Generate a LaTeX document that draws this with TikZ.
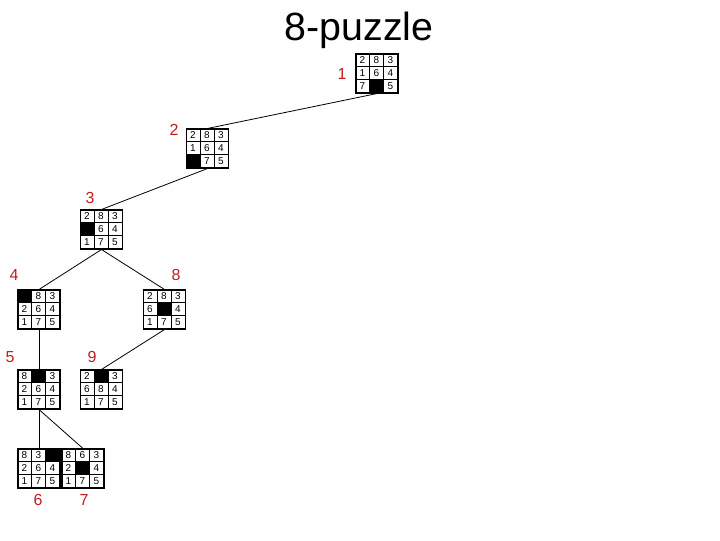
\documentclass[tikz,border=0pt]{standalone}
\usepackage{fontspec}
\setmainfont{Liberation Sans}
\usepackage{tikz}
\usetikzlibrary{calc}
\definecolor{labred}{RGB}{192,30,30}

\tikzset{
    board/.style = {draw, minimum width = 31.5pt, minimum height = 29.25pt, inner sep = 0pt, thick},
    stepnum/.style = {text = labred, font = \fontsize{12}{14}\selectfont},
    tile/.style  = {font = \fontsize{7.5}{8}\selectfont}
}

% \puzzle{name}{x}{y}{nine tiles, 0 = blank}
\newcommand{\puzzle}[4]{%
    \node[board] (#1) at (#2, #3) {};
    \foreach \t [count = \i from 0] in {#4} {
        \pgfmathtruncatemacro{\c}{mod(\i, 3)}
        \pgfmathtruncatemacro{\r}{div(\i, 3)}
        \coordinate (cell) at ($(#1.north west) + (\c*14 + 7, \r*13 + 6.5)$);
        \ifnum\t=0
            \fill ($(cell) + (-7, -6.5)$) rectangle ($(cell) + (7, 6.5)$);
        \else
            \node[tile] at (cell) {\t};
        \fi
    }
    \draw[thin] ($(#1.north west) + (14, 0)$) -- ($(#1.south west) + (14, 0)$)
                ($(#1.north west) + (28, 0)$) -- ($(#1.south west) + (28, 0)$)
                ($(#1.north west) + (0, 13)$) -- ($(#1.north east) + (0, 13)$)
                ($(#1.north west) + (0, 26)$) -- ($(#1.north east) + (0, 26)$);
}

\begin{document}
\begin{tikzpicture}[x = 0.75pt, y = -0.75pt]
    \useasboundingbox (0, 0) rectangle (720, 540);

    \node[font = \fontsize{29.5}{32}\selectfont] (title) at (359, 30) {8-puzzle};

    %% boards
    \puzzle{b1}{377}{73.5}{2,8,3,1,6,4,7,0,5}
    \puzzle{b2}{207.5}{148.5}{2,8,3,1,6,4,0,7,5}
    \puzzle{b3}{101.5}{229.5}{2,8,3,0,6,4,1,7,5}
    \puzzle{b4}{39}{309.5}{0,8,3,2,6,4,1,7,5}
    \puzzle{b8}{164.5}{309.5}{2,8,3,6,0,4,1,7,5}
    \puzzle{b5}{39}{389.5}{8,0,3,2,6,4,1,7,5}
    \puzzle{b9}{101.5}{389.5}{2,0,3,6,8,4,1,7,5}
    \puzzle{b6}{39}{468.5}{8,3,0,2,6,4,1,7,5}
    \puzzle{b7}{83}{468.5}{8,6,3,2,0,4,1,7,5}

    %% labels
    \node[stepnum] (l1) at (342, 74) {1};
    \node[stepnum] (l2) at (174, 130) {2};
    \node[stepnum] (l3) at (90, 198) {3};
    \node[stepnum] (l4) at (14, 275) {4};
    \node[stepnum] (l8) at (176, 275) {8};
    \node[stepnum] (l5) at (10, 357) {5};
    \node[stepnum] (l9) at (92, 357) {9};
    \node[stepnum] (l6) at (38, 500) {6};
    \node[stepnum] (l7) at (84, 500) {7};

    %% moves
    \draw[semithick] (b1.south) -- (b2.north);
    \draw[semithick] (b2.south) -- (b3.north);
    \draw[semithick] (b3.south) -- (b4.north);
    \draw[semithick] (b3.south) -- (b8.north);
    \draw[semithick] (b4.south) -- (b5.north);
    \draw[semithick] (b8.south) -- (b9.north);
    \draw[semithick] (b5.south) -- (b6.north);
    \draw[semithick] (b5.south) -- (b7.north);
\end{tikzpicture}
\end{document}
